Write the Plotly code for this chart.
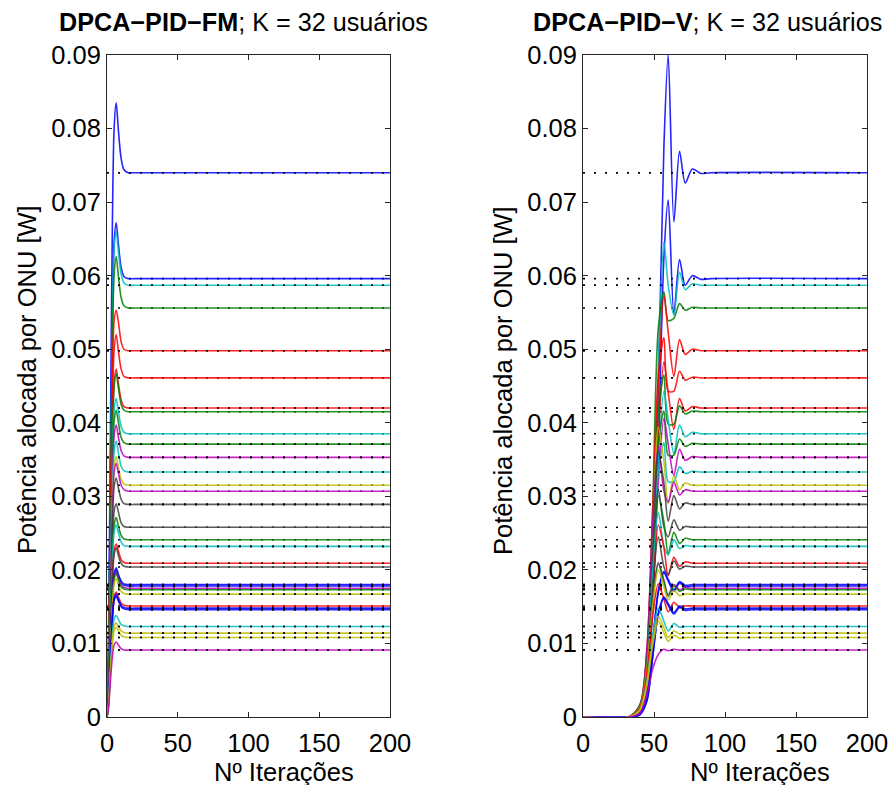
import plotly.graph_objects as go

# ---------------- data ----------------
# equilibrium power of each ONU (W), top to bottom
eq_power = [0.0740, 0.0596, 0.0587, 0.0556, 0.0498, 0.0461, 0.0420, 0.0415,
            0.0385, 0.0371, 0.0353, 0.0333, 0.0315, 0.0307, 0.0289, 0.0258,
            0.0241, 0.0232, 0.0209, 0.0204, 0.0180, 0.0178, 0.0175, 0.0173,
            0.0167, 0.0151, 0.0148, 0.0146, 0.0123, 0.0114, 0.0108, 0.0091]
series_colors = ['b', 'b', 'c', 'g', 'r', 'r', 'r', 'g', 'c', 'g', 'm', 'c', 'y', 'm', 'k', 'k',
                 'g', 'c', 'r', 'k', 'b', 'b', 'm', 'g', 'y', 'r', 'b', 'b', 'c', 'y', 'y', 'm']
dotted_on_top = [1, 0, 1, 0, 1, 0, 1, 0, 0, 1, 1, 1, 0, 0, 1, 0,
                 0, 1, 1, 0, 1, 1, 0, 0, 1, 0, 1, 1, 1, 1, 1, 1]

# DPCA-PID-FM: iterations and power samples
iter_fm = [0, 1, 3, 5, 6.5, 8, 10, 12, 15, 20, 200]
power_fm = [
    [0, 0.0089, 0.0518, 0.0799, 0.0835, 0.0799, 0.0759, 0.0744, 0.0740, 0.0740, 0.0740],
    [0, 0.0072, 0.0417, 0.0644, 0.0672, 0.0644, 0.0611, 0.0599, 0.0596, 0.0596, 0.0596],
    [0, 0.0070, 0.0411, 0.0634, 0.0660, 0.0634, 0.0602, 0.0590, 0.0587, 0.0587, 0.0587],
    [0, 0.0067, 0.0389, 0.0600, 0.0626, 0.0600, 0.0570, 0.0559, 0.0556, 0.0556, 0.0556],
    [0, 0.0060, 0.0349, 0.0538, 0.0553, 0.0538, 0.0510, 0.0500, 0.0498, 0.0498, 0.0498],
    [0, 0.0055, 0.0323, 0.0498, 0.0520, 0.0498, 0.0473, 0.0463, 0.0461, 0.0461, 0.0461],
    [0, 0.0050, 0.0294, 0.0454, 0.0473, 0.0454, 0.0431, 0.0422, 0.0420, 0.0420, 0.0420],
    [0, 0.0050, 0.0291, 0.0448, 0.0467, 0.0448, 0.0425, 0.0417, 0.0415, 0.0415, 0.0415],
    [0, 0.0046, 0.0270, 0.0416, 0.0433, 0.0416, 0.0395, 0.0387, 0.0385, 0.0385, 0.0385],
    [0, 0.0045, 0.0260, 0.0401, 0.0417, 0.0401, 0.0380, 0.0373, 0.0371, 0.0371, 0.0371],
    [0, 0.0042, 0.0247, 0.0381, 0.0397, 0.0381, 0.0362, 0.0355, 0.0353, 0.0353, 0.0353],
    [0, 0.0040, 0.0233, 0.0360, 0.0375, 0.0360, 0.0341, 0.0335, 0.0333, 0.0333, 0.0333],
    [0, 0.0038, 0.0221, 0.0340, 0.0354, 0.0340, 0.0323, 0.0317, 0.0315, 0.0315, 0.0315],
    [0, 0.0037, 0.0215, 0.0332, 0.0345, 0.0332, 0.0315, 0.0309, 0.0307, 0.0307, 0.0307],
    [0, 0.0035, 0.0202, 0.0312, 0.0325, 0.0312, 0.0296, 0.0290, 0.0289, 0.0289, 0.0289],
    [0, 0.0031, 0.0181, 0.0279, 0.0290, 0.0279, 0.0264, 0.0259, 0.0258, 0.0258, 0.0258],
    [0, 0.0029, 0.0169, 0.0260, 0.0271, 0.0260, 0.0247, 0.0242, 0.0241, 0.0241, 0.0241],
    [0, 0.0028, 0.0162, 0.0251, 0.0261, 0.0251, 0.0238, 0.0233, 0.0232, 0.0232, 0.0232],
    [0, 0.0025, 0.0146, 0.0226, 0.0235, 0.0226, 0.0214, 0.0210, 0.0209, 0.0209, 0.0209],
    [0, 0.0024, 0.0143, 0.0220, 0.0230, 0.0220, 0.0209, 0.0205, 0.0204, 0.0204, 0.0204],
    [0, 0.0022, 0.0126, 0.0194, 0.0203, 0.0194, 0.0185, 0.0181, 0.0180, 0.0180, 0.0180],
    [0, 0.0021, 0.0125, 0.0192, 0.0200, 0.0192, 0.0182, 0.0179, 0.0178, 0.0178, 0.0178],
    [0, 0.0021, 0.0123, 0.0189, 0.0197, 0.0189, 0.0179, 0.0176, 0.0175, 0.0175, 0.0175],
    [0, 0.0021, 0.0121, 0.0187, 0.0195, 0.0187, 0.0177, 0.0174, 0.0173, 0.0173, 0.0173],
    [0, 0.0020, 0.0117, 0.0180, 0.0188, 0.0180, 0.0171, 0.0168, 0.0167, 0.0167, 0.0167],
    [0, 0.0018, 0.0106, 0.0163, 0.0170, 0.0163, 0.0155, 0.0152, 0.0151, 0.0151, 0.0151],
    [0, 0.0018, 0.0104, 0.0160, 0.0167, 0.0160, 0.0152, 0.0149, 0.0148, 0.0148, 0.0148],
    [0, 0.0018, 0.0102, 0.0158, 0.0164, 0.0158, 0.0150, 0.0147, 0.0146, 0.0146, 0.0146],
    [0, 0.0015, 0.0086, 0.0133, 0.0138, 0.0133, 0.0126, 0.0124, 0.0123, 0.0123, 0.0123],
    [0, 0.0014, 0.0080, 0.0123, 0.0128, 0.0123, 0.0117, 0.0115, 0.0114, 0.0114, 0.0114],
    [0, 0.0013, 0.0076, 0.0117, 0.0122, 0.0117, 0.0111, 0.0109, 0.0108, 0.0108, 0.0108],
    [0, 0.0011, 0.0064, 0.0098, 0.0102, 0.0098, 0.0093, 0.0091, 0.0091, 0.0091, 0.0091],
]

# DPCA-PID-V: iterations and power samples
iter_v = [0, 32, 40, 45, 49, 53, 57, 60, 64, 68, 72, 77, 83, 90, 200]
power_v = [
    [0, 0, 0.0007, 0.0044, 0.0185, 0.0444, 0.0777, 0.0900, 0.0673, 0.0769, 0.0726, 0.0745, 0.0739, 0.0740, 0.0740],
    [0, 0, 0.0006, 0.0036, 0.0149, 0.0358, 0.0626, 0.0703, 0.0548, 0.0622, 0.0587, 0.0600, 0.0595, 0.0596, 0.0596],
    [0, 0, 0.0012, 0.0059, 0.0205, 0.0470, 0.0646, 0.0587, 0.0546, 0.0605, 0.0581, 0.0589, 0.0587, 0.0587, 0.0587],
    [0, 0, 0.0017, 0.0083, 0.0278, 0.0528, 0.0578, 0.0539, 0.0542, 0.0562, 0.0553, 0.0557, 0.0556, 0.0556, 0.0556],
    [0, 0, 0.0010, 0.0060, 0.0224, 0.0448, 0.0573, 0.0523, 0.0463, 0.0513, 0.0493, 0.0500, 0.0498, 0.0498, 0.0498],
    [0, 0, 0.0014, 0.0092, 0.0277, 0.0461, 0.0516, 0.0443, 0.0443, 0.0470, 0.0458, 0.0462, 0.0461, 0.0461, 0.0461],
    [0, 0, 0.0008, 0.0050, 0.0189, 0.0378, 0.0483, 0.0441, 0.0391, 0.0433, 0.0416, 0.0422, 0.0420, 0.0420, 0.0420],
    [0, 0, 0.0012, 0.0083, 0.0249, 0.0415, 0.0465, 0.0398, 0.0398, 0.0423, 0.0412, 0.0416, 0.0415, 0.0415, 0.0415],
    [0, 0, 0.0008, 0.0046, 0.0173, 0.0347, 0.0443, 0.0404, 0.0358, 0.0397, 0.0381, 0.0387, 0.0385, 0.0385, 0.0385],
    [0, 0, 0.0011, 0.0074, 0.0223, 0.0371, 0.0416, 0.0356, 0.0356, 0.0378, 0.0368, 0.0372, 0.0371, 0.0371, 0.0371],
    [0, 0, 0.0007, 0.0042, 0.0159, 0.0318, 0.0406, 0.0371, 0.0328, 0.0364, 0.0349, 0.0354, 0.0353, 0.0353, 0.0353],
    [0, 0, 0.0010, 0.0067, 0.0200, 0.0333, 0.0373, 0.0320, 0.0320, 0.0340, 0.0331, 0.0334, 0.0333, 0.0333, 0.0333],
    [0, 0, 0.0013, 0.0079, 0.0236, 0.0394, 0.0347, 0.0290, 0.0328, 0.0309, 0.0318, 0.0315, 0.0315, 0.0315, 0.0315],
    [0, 0, 0.0015, 0.0092, 0.0261, 0.0368, 0.0307, 0.0292, 0.0319, 0.0302, 0.0309, 0.0307, 0.0307, 0.0307, 0.0307],
    [0, 0, 0.0012, 0.0072, 0.0217, 0.0361, 0.0318, 0.0266, 0.0301, 0.0283, 0.0291, 0.0289, 0.0289, 0.0289, 0.0289],
    [0, 0, 0.0013, 0.0077, 0.0219, 0.0310, 0.0258, 0.0245, 0.0268, 0.0254, 0.0259, 0.0258, 0.0258, 0.0258, 0.0258],
    [0, 0, 0.0010, 0.0060, 0.0181, 0.0301, 0.0265, 0.0222, 0.0251, 0.0236, 0.0243, 0.0241, 0.0241, 0.0241, 0.0241],
    [0, 0, 0.0012, 0.0070, 0.0197, 0.0278, 0.0232, 0.0220, 0.0241, 0.0229, 0.0233, 0.0232, 0.0232, 0.0232, 0.0232],
    [0, 0, 0.0008, 0.0052, 0.0157, 0.0261, 0.0230, 0.0192, 0.0217, 0.0205, 0.0211, 0.0209, 0.0209, 0.0209, 0.0209],
    [0, 0, 0.0010, 0.0061, 0.0173, 0.0245, 0.0204, 0.0194, 0.0212, 0.0201, 0.0205, 0.0204, 0.0204, 0.0204, 0.0204],
    [0, 0, 0.0004, 0.0027, 0.0099, 0.0171, 0.0198, 0.0187, 0.0173, 0.0184, 0.0179, 0.0180, 0.0180, 0.0180, 0.0180],
    [0, 0, 0.0004, 0.0027, 0.0098, 0.0169, 0.0196, 0.0185, 0.0171, 0.0182, 0.0177, 0.0178, 0.0178, 0.0178, 0.0178],
    [0, 0, 0.0014, 0.0070, 0.0158, 0.0210, 0.0186, 0.0166, 0.0180, 0.0173, 0.0176, 0.0175, 0.0175, 0.0175, 0.0175],
    [0, 0, 0.0014, 0.0069, 0.0156, 0.0208, 0.0183, 0.0164, 0.0178, 0.0171, 0.0174, 0.0173, 0.0173, 0.0173, 0.0173],
    [0, 0, 0.0013, 0.0067, 0.0150, 0.0200, 0.0177, 0.0159, 0.0172, 0.0165, 0.0167, 0.0167, 0.0167, 0.0167, 0.0167],
    [0, 0, 0.0012, 0.0060, 0.0136, 0.0181, 0.0160, 0.0143, 0.0156, 0.0149, 0.0151, 0.0151, 0.0151, 0.0151, 0.0151],
    [0, 0, 0.0003, 0.0022, 0.0081, 0.0141, 0.0163, 0.0154, 0.0142, 0.0151, 0.0147, 0.0148, 0.0148, 0.0148, 0.0148],
    [0, 0, 0.0003, 0.0022, 0.0080, 0.0139, 0.0161, 0.0152, 0.0140, 0.0149, 0.0145, 0.0146, 0.0146, 0.0146, 0.0146],
    [0, 0, 0.0010, 0.0049, 0.0111, 0.0148, 0.0130, 0.0117, 0.0127, 0.0122, 0.0123, 0.0123, 0.0123, 0.0123, 0.0123],
    [0, 0, 0.0009, 0.0046, 0.0103, 0.0137, 0.0121, 0.0108, 0.0117, 0.0113, 0.0114, 0.0114, 0.0114, 0.0114, 0.0114],
    [0, 0, 0.0009, 0.0043, 0.0097, 0.0130, 0.0114, 0.0103, 0.0111, 0.0107, 0.0108, 0.0108, 0.0108, 0.0108, 0.0108],
    [0, 0, 0.0005, 0.0030, 0.0065, 0.0085, 0.0092, 0.0090, 0.0092, 0.0091, 0.0091, 0.0091, 0.0091, 0.0091, 0.0091],
]

x_ticks = [0, 50, 100, 150, 200]
x_tick_labels = ['0', '50', '100', '150', '200']
y_ticks = [0, 0.01, 0.02, 0.03, 0.04, 0.05, 0.06, 0.07, 0.08, 0.09]
y_tick_labels = ['0', '0.01', '0.02', '0.03', '0.04', '0.05', '0.06', '0.07', '0.08', '0.09']

titles_bold = ['DPCA\u2212PID\u2212FM', 'DPCA\u2212PID\u2212V']
title_rest = '; K = 32 usuários'
x_label = 'Nº Iterações'
y_label = 'Potência alocada por ONU [W]'

# ---------------- styling ----------------
COLOR_MAP = {'b': '#0000FF', 'g': '#008000', 'r': '#FF0000', 'c': '#00BFBF',
             'm': '#BF00BF', 'y': '#BFBF00', 'k': '#404040'}
FONT = 'Liberation Sans, Arial, sans-serif'
W, H = 890, 785


def px_x(v):
    return v / W


def px_y(v):
    return 1 - v / H


plot_top, plot_bottom = 55, 717
panels_px = [(107, 390), (583, 867)]

fig = go.Figure()


def dotted_trace(idx_list, xa, ya):
    xs, ys = [], []
    for i in idx_list:
        xs += [0, 200, None]
        ys += [eq_power[i], eq_power[i], None]
    return go.Scatter(x=xs, y=ys, mode='lines', xaxis=xa, yaxis=ya,
                      line=dict(color='black', width=1.6, dash='2px,9px'),
                      hoverinfo='skip', showlegend=False)


for p, (xs, data) in enumerate([(iter_fm, power_fm), (iter_v, power_v)]):
    xa = 'x' if p == 0 else 'x2'
    ya = 'y' if p == 0 else 'y2'
    fig.add_trace(dotted_trace(range(len(eq_power)), xa, ya))
    for i, ys in enumerate(data):
        fig.add_trace(go.Scatter(
            x=xs, y=ys, mode='lines', xaxis=xa, yaxis=ya,
            line=dict(color=COLOR_MAP[series_colors[i]], width=1.6,
                      shape='spline', smoothing=0.8),
            opacity=0.85, showlegend=False, hoverinfo='skip'))
    fig.add_trace(dotted_trace([i for i in range(len(eq_power)) if dotted_on_top[i]], xa, ya))

ydom = [px_y(plot_bottom), px_y(plot_top)]
axis_common = dict(showline=True, linecolor='#262626', linewidth=1, mirror='allticks',
                   ticks='inside', ticklen=5, tickcolor='#262626', showgrid=False,
                   zeroline=False, automargin=False,
                   tickfont=dict(family=FONT, size=25.5, color='black'))
for p, (l, r) in enumerate(panels_px):
    sfx = '' if p == 0 else '2'
    fig.layout['xaxis' + sfx] = dict(domain=[px_x(l), px_x(r)], range=[0, 200],
                                     tickvals=x_ticks, ticktext=x_tick_labels,
                                     anchor='y' + sfx, ticklabelstandoff=3, **axis_common)
    fig.layout['yaxis' + sfx] = dict(domain=ydom, range=[0, 0.09],
                                     tickvals=y_ticks, ticktext=y_tick_labels,
                                     anchor='x' + sfx, ticklabelstandoff=0, **axis_common)

annotations = []
title_centers = [243, 707]
xlabel_centers = [284, 760]
ylabel_centers = [27, 503]
for p in range(2):
    annotations.append(dict(text='<b>' + titles_bold[p] + '</b>' + title_rest,
                            x=px_x(title_centers[p]), y=px_y(22), xref='paper', yref='paper',
                            xanchor='center', yanchor='middle', showarrow=False,
                            font=dict(family=FONT, size=25.2, color='black')))
    annotations.append(dict(text=x_label, x=px_x(xlabel_centers[p]), y=px_y(772),
                            xref='paper', yref='paper', xanchor='center', yanchor='middle',
                            showarrow=False, font=dict(family=FONT, size=25.5, color='black')))
    annotations.append(dict(text=y_label, x=px_x(ylabel_centers[p]), y=px_y(380),
                            xref='paper', yref='paper', xanchor='center', yanchor='middle',
                            textangle=-90, showarrow=False,
                            font=dict(family=FONT, size=25.5, color='black')))

fig.update_layout(width=W, height=H, margin=dict(l=0, r=0, t=0, b=0),
                  paper_bgcolor='white', plot_bgcolor='white',
                  annotations=annotations, showlegend=False)

# remove the default page margin so the 890x785 figure fills the window exactly
fig.write_html('out.html',
               config={'displayModeBar': False},
               post_script="document.body.style.margin='0px';"
                           "document.body.style.overflow='hidden';")
